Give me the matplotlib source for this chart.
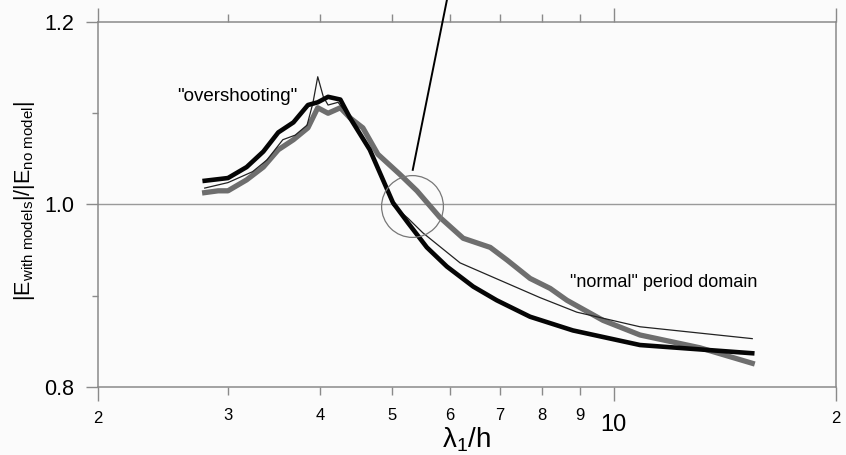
import numpy as np
import matplotlib
matplotlib.use("Agg")
import matplotlib.pyplot as plt
from matplotlib.ticker import FixedLocator, FixedFormatter, NullFormatter

plt.rcParams['font.family'] = ['Liberation Sans', 'DejaVu Sans']
plt.rcParams['mathtext.fontset'] = 'custom'
plt.rcParams['mathtext.rm'] = 'Liberation Sans'
plt.rcParams['mathtext.it'] = 'Liberation Sans:italic'

# --- data ---
black_x = [2.79, 3.0, 3.18, 3.35, 3.51, 3.68, 3.85, 3.97, 4.10, 4.26, 4.39, 4.67, 5.02,
           5.26, 5.58, 5.94, 6.45, 6.94, 7.70, 8.80, 10.85, 15.4]
black_y = [1.026, 1.029, 1.041, 1.058, 1.079, 1.090, 1.109, 1.112, 1.118, 1.115, 1.095,
           1.060, 1.002, 0.980, 0.953, 0.932, 0.910, 0.895, 0.877, 0.862, 0.846, 0.837]

gray_x = [2.79, 2.91, 3.0, 3.18, 3.35, 3.51, 3.68, 3.85, 3.97, 4.10, 4.26, 4.39, 4.57,
          4.79, 5.13, 5.41, 5.81, 6.25, 6.80, 7.17, 7.70, 8.20, 8.64, 9.67, 10.85, 13.08, 15.4]
gray_y = [1.013, 1.015, 1.015, 1.027, 1.041, 1.060, 1.071, 1.084, 1.106, 1.100, 1.106,
          1.095, 1.084, 1.055, 1.033, 1.015, 0.986, 0.963, 0.953, 0.939, 0.919, 0.908,
          0.895, 0.873, 0.857, 0.843, 0.826]

thin_x = [2.79, 3.0, 3.24, 3.39, 3.56, 3.70, 3.84, 3.91, 3.97, 4.04, 4.10, 4.23, 4.39,
          4.67, 5.02, 5.26, 5.51, 6.19, 7.01, 7.94, 8.91, 10.85, 15.4]
thin_y = [1.018, 1.024, 1.036, 1.049, 1.071, 1.076, 1.087, 1.111, 1.140, 1.118, 1.109,
          1.112, 1.095, 1.060, 0.999, 0.985, 0.969, 0.936, 0.917, 0.898, 0.882, 0.866, 0.853]

major_xticks = [2, 10, 20]
major_xlabels = ['2', '10', '2']
minor_xticks = [3, 4, 5, 6, 7, 8, 9]
minor_xlabels = ['3', '4', '5', '6', '7', '8', '9']
major_yticks = [0.8, 1.0, 1.2]
major_ylabels = ['0.8', '1.0', '1.2']
minor_yticks = [0.9, 1.1]

circle_center = (5.32, 0.998)
pointer_start = (5.94, 1.224)
pointer_end = (5.34, 1.038)
label_overshoot = (3.09, 1.118)
label_normal = (11.7, 0.914)

bg = '#fbfbfb'
spine_c = '#8a8a8a'

fig = plt.figure(figsize=(8.46, 4.55), dpi=100, facecolor=bg)
ax = fig.add_axes([98/846, 1-387/455, 738/846, 365/455])
ax.set_facecolor(bg)
ax.set_xscale('log')
ax.set_xlim(2, 20)
ax.set_ylim(0.8, 1.2)

ax.axhline(1.0, color='#9a9a9a', lw=1.0, zorder=1)

ax.plot(thin_x, thin_y, color='#222222', lw=0.9, zorder=3)
ax.plot(gray_x, gray_y, color='#6e6e6e', lw=3.8, zorder=2, solid_joinstyle='round')
ax.plot(black_x, black_y, color='#050505', lw=3.3, zorder=4, solid_joinstyle='round')

ax.plot([circle_center[0]], [circle_center[1]], 'o', ms=44.5, mfc='none',
        mec='#777777', mew=0.9, zorder=5)
ax.plot([pointer_start[0], pointer_end[0]], [pointer_start[1], pointer_end[1]],
        color='black', lw=1.4, clip_on=False, zorder=6)

ax.text(*label_overshoot, '"overshooting"', fontsize=13.5, ha='center', va='center')
ax.text(*label_normal, '"normal" period domain', fontsize=13, ha='center', va='center')

# ticks
ax.xaxis.set_major_locator(FixedLocator(major_xticks))
ax.xaxis.set_major_formatter(FixedFormatter(major_xlabels))
ax.xaxis.set_minor_locator(FixedLocator(minor_xticks))
ax.xaxis.set_minor_formatter(FixedFormatter(minor_xlabels))
ax.tick_params(axis='x', which='major', top=True, direction='out', length=10,
               width=1.0, color=spine_c, labelsize=12, pad=7)
ax.tick_params(axis='x', which='minor', top=True, direction='out', length=6,
               width=1.0, color=spine_c, labelsize=12, pad=9)
for lbl in ax.get_xticklabels():
    if lbl.get_text() == '10':
        lbl.set_fontsize(17)
        lbl.set_y(-0.008)

ax.yaxis.set_major_locator(FixedLocator(major_yticks))
ax.yaxis.set_major_formatter(FixedFormatter(major_ylabels))
ax.yaxis.set_minor_locator(FixedLocator(minor_yticks))
ax.yaxis.set_minor_formatter(NullFormatter())
ax.tick_params(axis='y', which='major', direction='out', length=9, width=1.0,
               color=spine_c, labelsize=15.5, pad=8)
ax.tick_params(axis='y', which='minor', direction='out', length=4, width=1.0,
               color=spine_c)

for s in ax.spines.values():
    s.set_color(spine_c)
    s.set_linewidth(1.1)

ax.set_xlabel('\u03bb$_1$/h', fontsize=20)
ax.xaxis.label.set_va('center')
ax.xaxis.set_label_coords(0.5, -0.145)
ax.set_ylabel(r'|E$_{\mathrm{with\ models}}$|/|E$_{\mathrm{no\ model}}$|', fontsize=15.5)
ax.yaxis.label.set_va('center')
ax.yaxis.set_label_coords(-0.099, 0.51)

fig.savefig('out.png', dpi=100, facecolor=bg)
